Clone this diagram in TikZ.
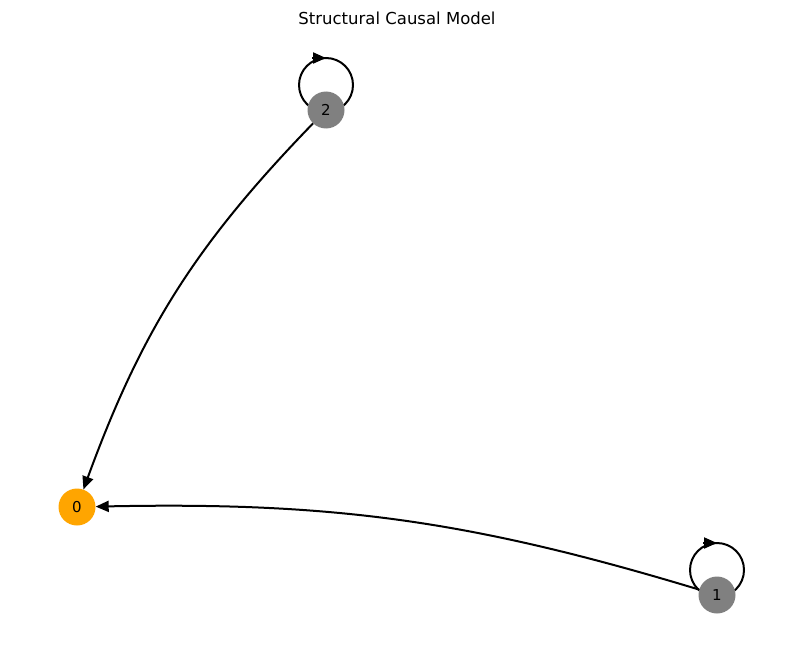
\documentclass[tikz,border=0pt]{standalone}
\usepackage{fontspec}
\setmainfont{DejaVu Sans}
\usetikzlibrary{arrows.meta,backgrounds}
\definecolor{nodeorange}{RGB}{255,165,0}
\definecolor{nodegray}{RGB}{128,128,128}
\begin{document}
\begin{tikzpicture}[x=1pt,y=-1pt]
    % styles
    \tikzset{
        vertex/.style={circle, minimum size=37pt, inner sep=0pt, font=\fontsize{15}{17}\selectfont},
        cause/.style={vertex, fill=nodegray},
        target/.style={vertex, fill=nodeorange},
        edge/.style={line width=2pt, -{Triangle[width=11pt,length=13pt]}},
        selfloop/.style={line width=2pt}
    }
    \useasboundingbox (0,0) rectangle (794,658);

    % title
    \node (title) at (397,18) {\fontsize{16.5}{19}\selectfont Structural Causal Model};

    % nodes
    \node (n0) [target] at (77,507) {0};
    \node (n1) [cause] at (717,595) {1};
    \node (n2) [cause] at (326,110) {2};

    % edges
    \draw [edge] (n2) to[bend right=12] (n0);
    \draw [edge] (n1) to[bend right=9] (n0);

    % self loops
    \begin{scope}[on background layer]
        \draw [selfloop] ([yshift=25pt]n2.center) circle (27);
        \draw [selfloop] ([yshift=25pt]n1.center) circle (27);
    \end{scope}
    \draw [edge] ([xshift=-14pt,yshift=52pt]n2.center) -- ([xshift=0pt,yshift=52pt]n2.center);
    \draw [edge] ([xshift=-14pt,yshift=52pt]n1.center) -- ([xshift=0pt,yshift=52pt]n1.center);
\end{tikzpicture}
\end{document}
